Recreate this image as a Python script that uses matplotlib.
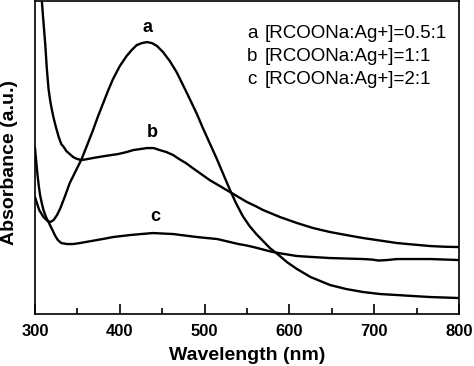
import matplotlib
matplotlib.use("Agg")
import matplotlib.pyplot as plt
from matplotlib.ticker import MultipleLocator

plt.rcParams['font.family'] = ['Liberation Sans', 'DejaVu Sans']

# absorbance spectra (arbitrary units)
wl_a = [300, 305, 310, 315, 318, 322, 326, 330, 335, 341, 348, 355, 362, 368, 374, 380, 386,
        392, 400, 408, 414, 420, 426, 432, 438, 444, 451, 459, 467, 474, 482, 491, 498, 506,
        514, 522, 530, 537, 545, 553, 561, 569, 577, 586, 597, 609, 625, 648, 667, 687, 707,
        727, 746, 766, 783, 800]
abs_a = [1.17, 1.04, 0.97, 0.93, 0.92, 0.94, 0.99, 1.06, 1.17, 1.31, 1.43, 1.55, 1.70, 1.83,
         1.97, 2.10, 2.23, 2.35, 2.48, 2.58, 2.64, 2.69, 2.71, 2.72, 2.71, 2.68, 2.62, 2.53,
         2.42, 2.30, 2.16, 2.00, 1.86, 1.71, 1.56, 1.40, 1.24, 1.11, 0.98, 0.88, 0.80, 0.73,
         0.66, 0.60, 0.52, 0.45, 0.37, 0.29, 0.25, 0.22, 0.20, 0.19, 0.18, 0.17, 0.165, 0.16]

wl_b = [300, 304, 308, 310, 312, 314, 316, 318, 320, 322, 325, 328, 331, 334, 337, 341, 345,
        350, 355, 362, 368, 375, 382, 390, 398, 408, 416, 424, 432, 440, 447, 455, 463, 470,
        478, 486, 496, 506, 518, 530, 540, 550, 560, 569, 589, 609, 628, 648, 667, 687, 707,
        727, 746, 766, 783, 800]
abs_b = [3.74, 3.54, 3.14, 2.92, 2.71, 2.45, 2.25, 2.13, 2.04, 1.96, 1.86, 1.77, 1.70, 1.67,
         1.63, 1.60, 1.57, 1.55, 1.54, 1.55, 1.56, 1.57, 1.58, 1.59, 1.60, 1.62, 1.64, 1.65,
         1.66, 1.66, 1.64, 1.62, 1.59, 1.55, 1.51, 1.46, 1.40, 1.34, 1.28, 1.22, 1.17, 1.12,
         1.08, 1.04, 0.97, 0.91, 0.86, 0.82, 0.79, 0.76, 0.735, 0.71, 0.695, 0.68, 0.673, 0.67]

wl_c = [300, 301.5, 303, 304.5, 306, 308, 310, 313, 316, 320, 324, 327, 331, 338, 345, 353,
        363, 373, 383, 392, 402, 412, 425, 439, 451, 463, 477, 491, 503, 515, 530, 540, 550,
        560, 569, 578, 587, 598, 609, 628, 648, 667, 687, 697, 705, 715, 727, 746, 766, 783, 800]
abs_c = [1.66, 1.52, 1.39, 1.28, 1.19, 1.11, 1.04, 0.97, 0.92, 0.85, 0.78, 0.74, 0.71, 0.70,
         0.70, 0.71, 0.725, 0.74, 0.755, 0.77, 0.78, 0.79, 0.80, 0.81, 0.805, 0.80, 0.785,
         0.77, 0.76, 0.75, 0.72, 0.70, 0.685, 0.665, 0.645, 0.625, 0.61, 0.595, 0.58, 0.57,
         0.56, 0.555, 0.55, 0.545, 0.535, 0.54, 0.55, 0.55, 0.55, 0.545, 0.54]

letters = ['a', 'b', 'c']
ratios = ['[RCOONa:Ag+]=0.5:1', '[RCOONa:Ag+]=1:1', '[RCOONa:Ag+]=2:1']
label_pos = [(433, 2.87), (438, 1.82), (442, 0.98)]

fig = plt.figure(figsize=(4.74, 3.66), dpi=100)
ax = fig.add_axes([0.0738, 0.142, 0.8945, 0.855])

for x, y in [(wl_a, abs_a), (wl_b, abs_b), (wl_c, abs_c)]:
    ax.plot(x, y, color='black', lw=1.7, solid_joinstyle='round')

for let, (x, y) in zip(letters, label_pos):
    ax.text(x, y, let, fontsize=13, fontweight='bold', ha='center', va='center')

for i, (let, r) in enumerate(zip(letters, ratios)):
    yy = 0.895 - i * 0.0735
    ax.text(0.500, yy, let, transform=ax.transAxes, fontsize=13.5, ha='left', va='center')
    ax.text(0.542, yy, r, transform=ax.transAxes, fontsize=13.5, ha='left', va='center')

ax.set_xlim(300, 800)
ax.set_ylim(0, 3.13)
ax.xaxis.set_major_locator(MultipleLocator(100))
ax.xaxis.set_minor_locator(MultipleLocator(50))
ax.tick_params(axis='x', which='major', direction='in', length=7, width=1.2, pad=7,
               labelsize=12, top=False)
ax.tick_params(axis='x', which='minor', direction='in', length=4, width=1.2, top=False)
for lab in ax.get_xticklabels():
    lab.set_fontweight('bold')
ax.set_yticks([])
for s in ax.spines.values():
    s.set_linewidth(1.2)

ax.set_xlabel('Wavelength (nm)', fontsize=14, fontweight='bold', labelpad=6)
fig.text(10 / 474, 1 - 162 / 366, 'Absorbance (a.u.)', rotation=90, fontsize=14,
         fontweight='bold', ha='center', va='center')

fig.savefig('out.png', dpi=100)
